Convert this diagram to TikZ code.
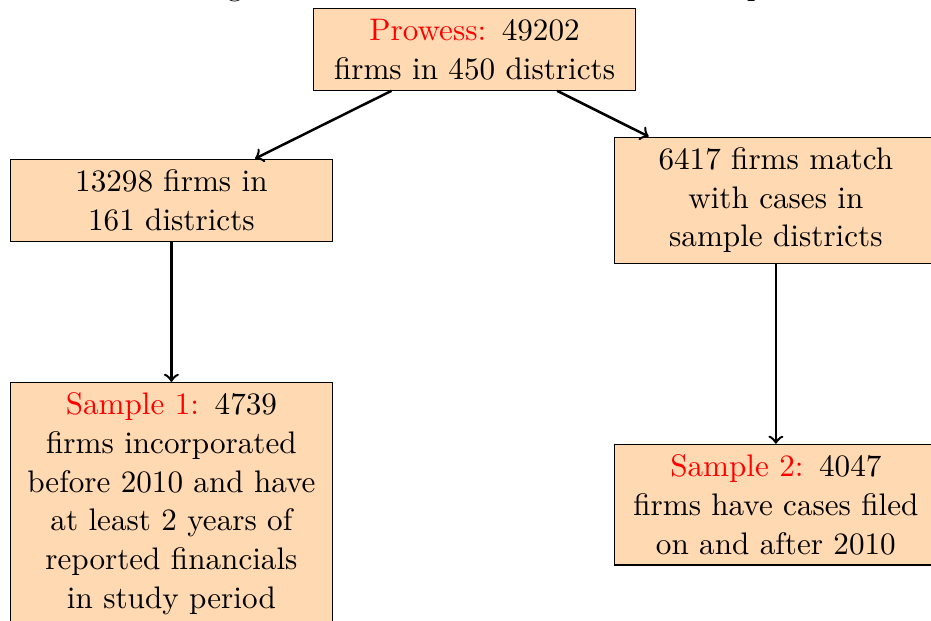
\documentclass[tikz,border=0pt]{standalone}
\usetikzlibrary{positioning}

\begin{document}
\begin{tikzpicture}[box/.style={draw, fill=orange!30, text width=3.4cm, align=center, execute at begin node=\setlength{\baselineskip}{12.4pt}}]

\useasboundingbox (-5.354,-6.437) rectangle (5.150,0.559);

\node[anchor=base] at (0.2,0.605) (title){Figure 1: Construction of the Firm Sample};

\node[box] at (0,0) (prowess){\textcolor{red}{Prowess:} 49202 firms in 450 districts};
\node[box] at (-3.42,-1.70) (firms){13298 firms in 161 districts};
\node[box] at (3.40,-1.70) (cases){6417 firms match with cases in sample districts};

\node[box, below=1.58cm of firms] (sampleone){\textcolor{red}{Sample 1:} 4739 firms incorporated before 2010 and have at least 2 years of reported financials in study period};
\node[box, below=2.03cm of cases] (sampletwo){\textcolor{red}{Sample 2:} 4047 firms have cases filed on and after 2010};

\draw[->, thick] (prowess) -- (firms);
\draw[->, thick] (prowess) -- (cases);

\draw[->, thick] (firms) -- (sampleone);
\draw[->, thick] (cases) -- (sampletwo);

\end{tikzpicture}
\end{document}
